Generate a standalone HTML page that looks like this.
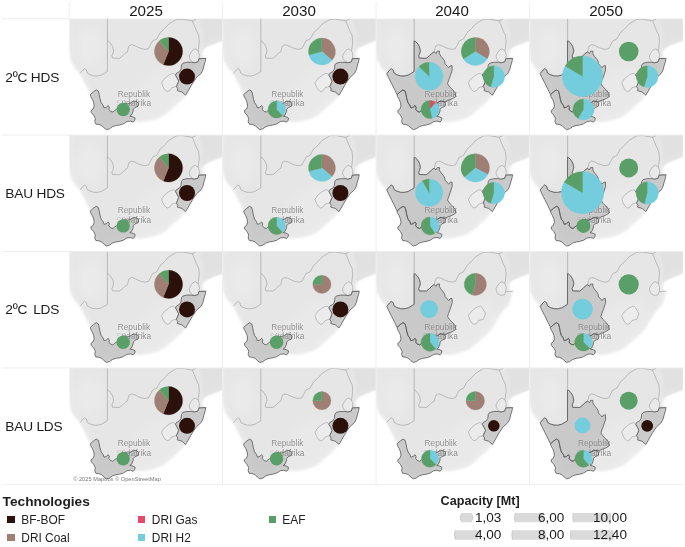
<!DOCTYPE html>
<html><head><meta charset="utf-8"><title>Steel technologies map</title>
<style>
html,body{margin:0;padding:0;background:#fff;}
body{width:685px;height:547px;position:relative;overflow:hidden;will-change:transform;font-family:"Liberation Sans",sans-serif;color:#1f1f1f;}
.t{position:absolute;white-space:nowrap;line-height:1;}
.hd{font-size:14.3px;color:#1a1a1a;transform:scaleX(1.06);transform-origin:50% 50%;}
.rl{font-size:13.7px;letter-spacing:-0.2px;color:#1c1c1c;left:5.3px;}
.lt{font-size:13.7px;font-weight:bold;color:#1e1e1e;}
.li{font-size:11.9px;color:#222;}
.sw{position:absolute;width:7.5px;height:7.2px;}
.num{font-size:12.0px;color:#1a1a1a;transform:scaleX(1.13);transform-origin:0 50%;}
</style></head><body>
<svg width="685" height="547" viewBox="0 0 685 547" style="position:absolute;left:0;top:0"><defs><filter id="bl" x="-10%" y="-10%" width="120%" height="120%"><feGaussianBlur stdDeviation="1.3"/></filter><filter id="bl2" x="-30%" y="-30%" width="160%" height="160%"><feGaussianBlur stdDeviation="4"/></filter><filter id="bl3" x="-20%" y="-20%" width="140%" height="140%"><feGaussianBlur stdDeviation="2.6"/></filter><clipPath id="lc"><path d="M-1.2,-8.0 L165.0,-8.0 L165.0,18.5 L153.3,22.0 L145.3,25.0 L138.3,27.9 L134.4,30.6 L133.0,35.5 L134.5,39.6 L136.3,39.9 L136.0,42.7 L134.6,47.3 L133.7,51.0 L131.9,54.6 L127.3,58.7 L123.2,64.7 L117.7,74.3 L116.4,76.5 L110.8,82.8 L102.7,89.8 L95.6,96.3 L89.2,99.6 L82.2,101.7 L76.3,102.9 L70.5,103.4 L67.0,102.6 L64.1,103.3 L61.2,102.4 L57.7,102.8 L54.2,105.1 L50.1,106.3 L46.6,106.8 L43.1,108.0 L40.2,110.1 L37.3,110.9 L34.9,109.2 L32.6,106.8 L29.7,105.7 L26.7,105.4 L25.6,102.8 L26.2,99.8 L24.4,96.3 L22.1,94.0 L21.8,91.9 L23.8,90.5 L25.0,87.6 L24.6,84.1 L23.2,80.6 L21.5,77.7 L21.1,75.9 L18.8,71.1 L15.3,64.1 L12.6,58.8 L10.8,54.9 L5.6,49.2 L2.2,43.5 L0.6,38.5 L-0.3,31.0 L-0.8,15.0Z"/></clipPath><clipPath id="cc"><rect x="0" y="0" width="153.4" height="116.4"/></clipPath><g id="base"><path d="M-1.2,-8.0 L165.0,-8.0 L165.0,18.5 L153.3,22.0 L145.3,25.0 L138.3,27.9 L134.4,30.6 L133.0,35.5 L134.5,39.6 L136.3,39.9 L136.0,42.7 L134.6,47.3 L133.7,51.0 L131.9,54.6 L127.3,58.7 L123.2,64.7 L117.7,74.3 L116.4,76.5 L110.8,82.8 L102.7,89.8 L95.6,96.3 L89.2,99.6 L82.2,101.7 L76.3,102.9 L70.5,103.4 L67.0,102.6 L64.1,103.3 L61.2,102.4 L57.7,102.8 L54.2,105.1 L50.1,106.3 L46.6,106.8 L43.1,108.0 L40.2,110.1 L37.3,110.9 L34.9,109.2 L32.6,106.8 L29.7,105.7 L26.7,105.4 L25.6,102.8 L26.2,99.8 L24.4,96.3 L22.1,94.0 L21.8,91.9 L23.8,90.5 L25.0,87.6 L24.6,84.1 L23.2,80.6 L21.5,77.7 L21.1,75.9 L18.8,71.1 L15.3,64.1 L12.6,58.8 L10.8,54.9 L5.6,49.2 L2.2,43.5 L0.6,38.5 L-0.3,31.0 L-0.8,15.0Z" fill="#e6e6e6" filter="url(#bl)"/><g clip-path="url(#lc)"><path d="M-1.2,-8.0 L165.0,-8.0 L165.0,18.5 L153.3,22.0 L145.3,25.0 L138.3,27.9 L134.4,30.6 L133.0,35.5 L134.5,39.6 L136.3,39.9 L136.0,42.7 L134.6,47.3 L133.7,51.0 L131.9,54.6 L127.3,58.7 L123.2,64.7 L117.7,74.3 L116.4,76.5 L110.8,82.8 L102.7,89.8 L95.6,96.3 L89.2,99.6 L82.2,101.7 L76.3,102.9 L70.5,103.4 L67.0,102.6 L64.1,103.3 L61.2,102.4 L57.7,102.8 L54.2,105.1 L50.1,106.3 L46.6,106.8 L43.1,108.0 L40.2,110.1 L37.3,110.9 L34.9,109.2 L32.6,106.8 L29.7,105.7 L26.7,105.4 L25.6,102.8 L26.2,99.8 L24.4,96.3 L22.1,94.0 L21.8,91.9 L23.8,90.5 L25.0,87.6 L24.6,84.1 L23.2,80.6 L21.5,77.7 L21.1,75.9 L18.8,71.1 L15.3,64.1 L12.6,58.8 L10.8,54.9 L5.6,49.2 L2.2,43.5 L0.6,38.5 L-0.3,31.0 L-0.8,15.0Z" fill="none" stroke="#fff" stroke-opacity="0.14" stroke-width="7" filter="url(#bl3)"/><ellipse cx="92" cy="76" rx="34" ry="22" fill="#fff" fill-opacity="0.13" filter="url(#bl2)" transform="rotate(-38 92 76)"/><ellipse cx="20" cy="28" rx="13" ry="20" fill="#fff" fill-opacity="0.16" filter="url(#bl2)"/><path d="M131,3 L134,14 L133,28 L131,31 L137,31 L160,22 L160,-5 L128,-5Z" fill="#d6d6d6" fill-opacity="0.30" filter="url(#bl)"/></g><path d="M106.3,56.4 L108.1,59.6 L109.5,62.4 L107.2,67.9 L104.9,68.3 L102.6,69.0 L100.6,71.9 L98.0,72.9 L95.4,70.9 L93.5,67.3 L92.4,64.1 L95.1,60.1 L99.3,56.7 L102.4,55.0 L104.5,54.7Z" fill="#f6f6f6" fill-opacity="0.22"/><path d="M126.0,30.2 L128.9,32.0 L130.2,35.8 L129.8,40.0 L128.7,43.2 L125.1,43.9 L122.3,42.7 L120.5,40.0 L120.0,37.2 L121.9,33.6 L123.8,31.2Z" fill="#f6f6f6" fill-opacity="0.22"/><g fill="none" stroke="#8c8c8c" stroke-width="0.5" stroke-linejoin="round"><path d="M38.2,-2.0 L38.2,52.8"/><path d="M38.2,52.8 L35.1,54.7 L32.2,56.4 L28.1,57.3 L24.6,57.2 L20.8,56.0 L18.1,54.4 L17.2,51.2 L15.2,49.9 L13.4,51.6 L10.8,54.9"/><path d="M38.2,22.2 L39.3,22.6 L41.4,24.6 L43.4,28.0 L44.4,32.2 L43.6,35.2 L42.7,37.0 L43.3,39.4 L50.3,39.6 L53.6,37.0 L55.8,34.6 L58.3,33.1 L59.0,29.9 L59.9,27.2 L62.2,26.0 L64.9,26.6 L68.6,28.5 L72.2,29.9 L75.8,30.6 L79.3,29.9 L81.6,25.6 L83.4,22.1 L87.5,20.3 L91.0,13.9 L95.1,10.4 L99.2,5.7 L103.8,2.8 L107.3,0.7 L113.2,0.5 L116.7,1.1 L123.1,2.2 L126.6,0.5 L128.0,-2.0"/><path d="M123.1,2.2 L124.9,6.3 L127.2,12.1 L129.5,16.8 L130.1,22.7 L129.5,28.5 L128.9,32.0"/><path d="M129.8,40.0 L137.2,39.8"/><path d="M106.3,56.4 L108.1,59.6 L109.5,62.4 L107.2,67.9 L104.9,68.3 L102.6,69.0 L100.6,71.9 L98.0,72.9 L95.4,70.9 L93.5,67.3 L92.4,64.1 L95.1,60.1 L99.3,56.7 L102.4,55.0 L104.5,54.7Z"/><path d="M126.0,30.2 L128.9,32.0 L130.2,35.8 L129.8,40.0 L128.7,43.2 L125.1,43.9 L122.3,42.7 L120.5,40.0 L120.0,37.2 L121.9,33.6 L123.8,31.2Z"/></g></g><g id="lab" font-family="Liberation Sans, sans-serif" font-size="8.3" fill="#8d8d8d" text-anchor="middle" stroke="#f4f4f4" stroke-opacity="0.55" stroke-width="1.1" paint-order="stroke" stroke-linejoin="round"><text x="64.7" y="78.2">Republik</text><text x="64.3" y="87.8"><tspan fill="#c4c4c4">S</tspan>üdafrika</text></g><path id="WC" d="M27.0,71.2 L29.1,72.4 L30.0,75.9 L30.8,80.0 L32.0,84.1 L33.8,86.4 L34.9,89.3 L37.3,88.4 L39.0,86.8 L40.2,88.7 L39.6,90.5 L41.3,92.6 L43.7,93.4 L45.4,91.9 L47.2,90.6 L48.6,90.9 L49.8,88.4 L52.3,85.6 L55.5,84.6 L58.5,85.2 L61.8,84.1 L64.1,82.3 L67.6,82.9 L69.4,84.7 L68.8,87.6 L65.9,88.7 L64.1,90.5 L63.9,92.6 L62.4,96.3 L60.6,97.5 L63.5,98.1 L65.9,99.3 L65.5,101.6 L64.1,103.3 L61.2,102.4 L57.7,102.8 L54.2,105.1 L50.1,106.3 L46.6,106.8 L43.1,108.0 L40.2,110.1 L37.3,110.9 L34.9,109.2 L32.6,106.8 L29.7,105.7 L26.7,105.4 L25.6,102.8 L26.2,99.8 L24.4,96.3 L22.1,94.0 L21.8,91.9 L23.8,90.5 L25.0,87.6 L24.6,84.1 L23.2,80.6 L21.5,77.7 L21.1,75.9 L24.4,73.0Z" fill="#8c8c8c" fill-opacity="0.32" stroke="#5e5e5e" stroke-width="0.85" stroke-linejoin="round"/><path id="NC" d="M38.1,22.2 L39.3,22.6 L41.4,24.6 L43.4,28.0 L44.4,32.2 L43.6,35.2 L42.7,37.0 L43.3,39.4 L50.3,39.6 L53.6,37.0 L55.8,34.6 L58.3,33.1 L60.0,34.9 L61.2,32.5 L63.5,32.5 L63.4,35.0 L65.2,37.9 L67.5,40.6 L68.8,43.0 L69.0,45.0 L71.3,47.5 L72.7,49.1 L74.0,47.3 L76.0,46.9 L76.2,51.2 L74.3,57.1 L72.5,62.0 L71.5,65.0 L73.7,68.2 L77.2,71.7 L79.5,74.6 L79.7,78.0 L76.5,80.0 L73.0,81.4 L70.0,82.6 L67.6,82.9 L64.1,82.3 L61.8,84.1 L58.5,85.2 L55.5,84.6 L52.3,85.6 L49.8,88.4 L48.6,90.9 L47.2,90.6 L45.4,91.9 L43.7,93.4 L41.3,92.6 L39.6,90.5 L40.2,88.7 L39.0,86.8 L37.3,88.4 L34.9,89.3 L33.8,86.4 L32.0,84.1 L30.8,80.0 L30.0,75.9 L29.1,72.4 L27.0,71.2 L24.4,73.0 L21.1,75.9 L18.8,71.1 L15.3,64.1 L12.6,58.8 L10.8,54.9 L13.4,51.6 L15.2,49.9 L17.2,51.2 L18.1,54.4 L20.8,56.0 L24.6,57.2 L28.1,57.3 L32.2,56.4 L35.1,54.7 L38.1,52.8Z" fill="#8c8c8c" fill-opacity="0.32" stroke="#5e5e5e" stroke-width="0.85" stroke-linejoin="round"/><path id="KZN" d="M129.7,40.0 L136.5,39.7 L136.0,42.7 L134.6,47.3 L133.7,51.0 L131.9,54.6 L127.3,58.7 L123.2,64.7 L117.7,74.3 L116.4,76.5 L112.7,73.3 L109.5,72.4 L108.1,72.0 L108.6,70.1 L107.2,67.9 L109.5,62.4 L108.1,59.6 L106.3,56.4 L107.2,54.6 L110.4,52.8 L111.8,50.5 L112.3,46.4 L113.6,44.6 L117.7,43.6 L122.3,43.6 L125.1,44.1 L128.7,43.2Z" fill="#8c8c8c" fill-opacity="0.32" stroke="#5e5e5e" stroke-width="0.85" stroke-linejoin="round"/></defs><g transform="translate(69.2,18.7)" clip-path="url(#cc)"><use href="#base"/><use href="#lab"/><use href="#WC"/><use href="#KZN"/><path d="M99.3,32.8 L99.30,18.70 A14.1,14.1 0 1 1 94.02,45.87Z" fill="#2c110b" stroke="#2c110b" stroke-width="0.3" stroke-linejoin="round"/><path d="M99.3,32.8 L94.02,45.87 A14.1,14.1 0 0 1 90.24,22.00Z" fill="#9f7f74" stroke="#9f7f74" stroke-width="0.3" stroke-linejoin="round"/><path d="M99.3,32.8 L90.24,22.00 A14.1,14.1 0 0 1 99.30,18.70Z" fill="#5a9f67" stroke="#5a9f67" stroke-width="0.3" stroke-linejoin="round"/><circle cx="117.8" cy="57.9" r="8.0" fill="#2c110b"/><circle cx="54.0" cy="90.8" r="6.7" fill="#5a9f67"/></g><g transform="translate(222.6,18.7)" clip-path="url(#cc)"><use href="#base"/><use href="#lab"/><use href="#WC"/><use href="#KZN"/><path d="M99.3,32.8 L99.30,19.40 A13.4,13.4 0 0 1 109.41,41.59Z" fill="#9f7f74" stroke="#9f7f74" stroke-width="0.3" stroke-linejoin="round"/><path d="M99.3,32.8 L109.41,41.59 A13.4,13.4 0 0 1 86.36,36.27Z" fill="#74cddc" stroke="#74cddc" stroke-width="0.3" stroke-linejoin="round"/><path d="M99.3,32.8 L86.36,36.27 A13.4,13.4 0 0 1 99.30,19.40Z" fill="#5a9f67" stroke="#5a9f67" stroke-width="0.3" stroke-linejoin="round"/><circle cx="117.8" cy="57.9" r="8.0" fill="#2c110b"/><path d="M54.0,90.8 L54.00,82.20 A8.6,8.6 0 0 1 59.87,97.09Z" fill="#74cddc" stroke="#74cddc" stroke-width="0.3" stroke-linejoin="round"/><path d="M54.0,90.8 L59.87,97.09 A8.6,8.6 0 1 1 54.00,82.20Z" fill="#5a9f67" stroke="#5a9f67" stroke-width="0.3" stroke-linejoin="round"/></g><g transform="translate(376.0,18.7)" clip-path="url(#cc)"><use href="#base"/><use href="#lab"/><use href="#NC"/><use href="#WC"/><use href="#KZN"/><path d="M99.3,32.8 L99.30,18.80 A14.0,14.0 0 0 1 111.17,40.22Z" fill="#9f7f74" stroke="#9f7f74" stroke-width="0.3" stroke-linejoin="round"/><path d="M99.3,32.8 L111.17,40.22 A14.0,14.0 0 0 1 87.43,40.22Z" fill="#74cddc" stroke="#74cddc" stroke-width="0.3" stroke-linejoin="round"/><path d="M99.3,32.8 L87.43,40.22 A14.0,14.0 0 0 1 99.30,18.80Z" fill="#5a9f67" stroke="#5a9f67" stroke-width="0.3" stroke-linejoin="round"/><path d="M53.1,57.6 L53.10,43.60 A14.0,14.0 0 1 1 43.03,47.87Z" fill="#74cddc" stroke="#74cddc" stroke-width="0.3" stroke-linejoin="round"/><path d="M53.1,57.6 L43.03,47.87 A14.0,14.0 0 0 1 53.10,43.60Z" fill="#5a9f67" stroke="#5a9f67" stroke-width="0.3" stroke-linejoin="round"/><path d="M117.8,57.9 L117.80,47.10 A10.8,10.8 0 1 1 114.64,68.23Z" fill="#74cddc" stroke="#74cddc" stroke-width="0.3" stroke-linejoin="round"/><path d="M117.8,57.9 L114.64,68.23 A10.8,10.8 0 0 1 117.80,47.10Z" fill="#5a9f67" stroke="#5a9f67" stroke-width="0.3" stroke-linejoin="round"/><path d="M54.0,90.8 L54.00,81.70 A9.1,9.1 0 0 1 59.85,83.83Z" fill="#e34c68" stroke="#e34c68" stroke-width="0.3" stroke-linejoin="round"/><path d="M54.0,90.8 L59.85,83.83 A9.1,9.1 0 0 1 56.05,99.67Z" fill="#74cddc" stroke="#74cddc" stroke-width="0.3" stroke-linejoin="round"/><path d="M54.0,90.8 L56.05,99.67 A9.1,9.1 0 1 1 54.00,81.70Z" fill="#5a9f67" stroke="#5a9f67" stroke-width="0.3" stroke-linejoin="round"/></g><g transform="translate(529.4,18.7)" clip-path="url(#cc)"><use href="#base"/><use href="#lab"/><use href="#NC"/><use href="#WC"/><use href="#KZN"/><circle cx="99.3" cy="32.8" r="9.8" fill="#5a9f67"/><path d="M53.1,57.6 L53.10,37.40 A20.2,20.2 0 1 1 35.79,47.20Z" fill="#74cddc" stroke="#74cddc" stroke-width="0.3" stroke-linejoin="round"/><path d="M53.1,57.6 L35.79,47.20 A20.2,20.2 0 0 1 53.10,37.40Z" fill="#5a9f67" stroke="#5a9f67" stroke-width="0.3" stroke-linejoin="round"/><path d="M117.8,57.9 L117.80,47.00 A10.9,10.9 0 1 1 114.61,68.32Z" fill="#74cddc" stroke="#74cddc" stroke-width="0.3" stroke-linejoin="round"/><path d="M117.8,57.9 L114.61,68.32 A10.9,10.9 0 0 1 117.80,47.00Z" fill="#5a9f67" stroke="#5a9f67" stroke-width="0.3" stroke-linejoin="round"/><path d="M54.0,90.8 L54.00,80.30 A10.5,10.5 0 1 1 48.59,99.80Z" fill="#74cddc" stroke="#74cddc" stroke-width="0.3" stroke-linejoin="round"/><path d="M54.0,90.8 L48.59,99.80 A10.5,10.5 0 0 1 54.00,80.30Z" fill="#5a9f67" stroke="#5a9f67" stroke-width="0.3" stroke-linejoin="round"/></g><g transform="translate(69.2,135.1)" clip-path="url(#cc)"><use href="#base"/><use href="#lab"/><use href="#WC"/><use href="#KZN"/><path d="M99.3,32.8 L99.30,18.70 A14.1,14.1 0 1 1 94.02,45.87Z" fill="#2c110b" stroke="#2c110b" stroke-width="0.3" stroke-linejoin="round"/><path d="M99.3,32.8 L94.02,45.87 A14.1,14.1 0 0 1 90.24,22.00Z" fill="#9f7f74" stroke="#9f7f74" stroke-width="0.3" stroke-linejoin="round"/><path d="M99.3,32.8 L90.24,22.00 A14.1,14.1 0 0 1 99.30,18.70Z" fill="#5a9f67" stroke="#5a9f67" stroke-width="0.3" stroke-linejoin="round"/><circle cx="117.8" cy="57.9" r="8.0" fill="#2c110b"/><circle cx="54.0" cy="90.8" r="6.7" fill="#5a9f67"/></g><g transform="translate(222.6,135.1)" clip-path="url(#cc)"><use href="#base"/><use href="#lab"/><use href="#WC"/><use href="#KZN"/><path d="M99.3,32.8 L99.30,19.40 A13.4,13.4 0 0 1 109.41,41.59Z" fill="#9f7f74" stroke="#9f7f74" stroke-width="0.3" stroke-linejoin="round"/><path d="M99.3,32.8 L109.41,41.59 A13.4,13.4 0 0 1 86.36,36.27Z" fill="#74cddc" stroke="#74cddc" stroke-width="0.3" stroke-linejoin="round"/><path d="M99.3,32.8 L86.36,36.27 A13.4,13.4 0 0 1 99.30,19.40Z" fill="#5a9f67" stroke="#5a9f67" stroke-width="0.3" stroke-linejoin="round"/><circle cx="117.8" cy="57.9" r="8.0" fill="#2c110b"/><path d="M54.0,90.8 L54.00,82.20 A8.6,8.6 0 0 1 59.87,97.09Z" fill="#74cddc" stroke="#74cddc" stroke-width="0.3" stroke-linejoin="round"/><path d="M54.0,90.8 L59.87,97.09 A8.6,8.6 0 1 1 54.00,82.20Z" fill="#5a9f67" stroke="#5a9f67" stroke-width="0.3" stroke-linejoin="round"/></g><g transform="translate(376.0,135.1)" clip-path="url(#cc)"><use href="#base"/><use href="#lab"/><use href="#NC"/><use href="#WC"/><use href="#KZN"/><path d="M99.3,32.8 L99.30,18.60 A14.2,14.2 0 0 1 111.84,39.47Z" fill="#9f7f74" stroke="#9f7f74" stroke-width="0.3" stroke-linejoin="round"/><path d="M99.3,32.8 L111.84,39.47 A14.2,14.2 0 0 1 88.42,41.93Z" fill="#74cddc" stroke="#74cddc" stroke-width="0.3" stroke-linejoin="round"/><path d="M99.3,32.8 L88.42,41.93 A14.2,14.2 0 0 1 99.30,18.60Z" fill="#5a9f67" stroke="#5a9f67" stroke-width="0.3" stroke-linejoin="round"/><path d="M53.1,57.6 L53.10,43.90 A13.7,13.7 0 1 1 46.25,45.74Z" fill="#74cddc" stroke="#74cddc" stroke-width="0.3" stroke-linejoin="round"/><path d="M53.1,57.6 L46.25,45.74 A13.7,13.7 0 0 1 53.10,43.90Z" fill="#5a9f67" stroke="#5a9f67" stroke-width="0.3" stroke-linejoin="round"/><path d="M117.8,57.9 L117.80,47.10 A10.8,10.8 0 1 1 114.64,68.23Z" fill="#74cddc" stroke="#74cddc" stroke-width="0.3" stroke-linejoin="round"/><path d="M117.8,57.9 L114.64,68.23 A10.8,10.8 0 0 1 117.80,47.10Z" fill="#5a9f67" stroke="#5a9f67" stroke-width="0.3" stroke-linejoin="round"/><path d="M54.0,90.8 L54.00,81.90 A8.9,8.9 0 0 1 58.98,98.18Z" fill="#74cddc" stroke="#74cddc" stroke-width="0.3" stroke-linejoin="round"/><path d="M54.0,90.8 L58.98,98.18 A8.9,8.9 0 1 1 54.00,81.90Z" fill="#5a9f67" stroke="#5a9f67" stroke-width="0.3" stroke-linejoin="round"/></g><g transform="translate(529.4,135.1)" clip-path="url(#cc)"><use href="#base"/><use href="#lab"/><use href="#NC"/><use href="#WC"/><use href="#KZN"/><circle cx="99.3" cy="32.8" r="9.5" fill="#5a9f67"/><path d="M53.1,57.6 L53.10,36.40 A21.2,21.2 0 1 1 34.74,47.00Z" fill="#74cddc" stroke="#74cddc" stroke-width="0.3" stroke-linejoin="round"/><path d="M53.1,57.6 L34.74,47.00 A21.2,21.2 0 0 1 53.10,36.40Z" fill="#5a9f67" stroke="#5a9f67" stroke-width="0.3" stroke-linejoin="round"/><path d="M117.8,57.9 L117.80,46.70 A11.2,11.2 0 1 1 114.90,68.72Z" fill="#74cddc" stroke="#74cddc" stroke-width="0.3" stroke-linejoin="round"/><path d="M117.8,57.9 L114.90,68.72 A11.2,11.2 0 0 1 117.80,46.70Z" fill="#5a9f67" stroke="#5a9f67" stroke-width="0.3" stroke-linejoin="round"/><circle cx="54.0" cy="90.8" r="7.0" fill="#5a9f67"/></g><g transform="translate(69.2,251.5)" clip-path="url(#cc)"><use href="#base"/><use href="#lab"/><use href="#WC"/><use href="#KZN"/><path d="M99.3,32.8 L99.30,18.70 A14.1,14.1 0 1 1 94.02,45.87Z" fill="#2c110b" stroke="#2c110b" stroke-width="0.3" stroke-linejoin="round"/><path d="M99.3,32.8 L94.02,45.87 A14.1,14.1 0 0 1 90.24,22.00Z" fill="#9f7f74" stroke="#9f7f74" stroke-width="0.3" stroke-linejoin="round"/><path d="M99.3,32.8 L90.24,22.00 A14.1,14.1 0 0 1 99.30,18.70Z" fill="#5a9f67" stroke="#5a9f67" stroke-width="0.3" stroke-linejoin="round"/><circle cx="117.8" cy="57.9" r="8.0" fill="#2c110b"/><circle cx="54.0" cy="90.8" r="6.7" fill="#5a9f67"/></g><g transform="translate(222.6,251.5)" clip-path="url(#cc)"><use href="#base"/><use href="#lab"/><use href="#WC"/><use href="#KZN"/><path d="M99.3,32.8 L99.30,23.70 A9.1,9.1 0 1 1 90.20,32.80Z" fill="#9f7f74" stroke="#9f7f74" stroke-width="0.3" stroke-linejoin="round"/><path d="M99.3,32.8 L90.20,32.80 A9.1,9.1 0 0 1 99.30,23.70Z" fill="#5a9f67" stroke="#5a9f67" stroke-width="0.3" stroke-linejoin="round"/><circle cx="117.8" cy="57.9" r="8.0" fill="#2c110b"/><circle cx="54.0" cy="90.8" r="6.7" fill="#5a9f67"/></g><g transform="translate(376.0,251.5)" clip-path="url(#cc)"><use href="#base"/><use href="#lab"/><use href="#NC"/><use href="#WC"/><path d="M99.3,32.8 L99.30,21.70 A11.1,11.1 0 1 1 96.24,43.47Z" fill="#9f7f74" stroke="#9f7f74" stroke-width="0.3" stroke-linejoin="round"/><path d="M99.3,32.8 L96.24,43.47 A11.1,11.1 0 0 1 99.30,21.70Z" fill="#5a9f67" stroke="#5a9f67" stroke-width="0.3" stroke-linejoin="round"/><circle cx="53.1" cy="57.6" r="8.9" fill="#74cddc"/><path d="M54.0,90.8 L54.00,81.90 A8.9,8.9 0 0 1 59.72,97.62Z" fill="#74cddc" stroke="#74cddc" stroke-width="0.3" stroke-linejoin="round"/><path d="M54.0,90.8 L59.72,97.62 A8.9,8.9 0 1 1 54.00,81.90Z" fill="#5a9f67" stroke="#5a9f67" stroke-width="0.3" stroke-linejoin="round"/></g><g transform="translate(529.4,251.5)" clip-path="url(#cc)"><use href="#base"/><use href="#lab"/><use href="#NC"/><use href="#WC"/><circle cx="99.3" cy="32.8" r="10.1" fill="#5a9f67"/><circle cx="53.1" cy="57.6" r="10.3" fill="#74cddc"/><path d="M54.0,90.8 L54.00,82.00 A8.8,8.8 0 0 1 60.44,96.80Z" fill="#74cddc" stroke="#74cddc" stroke-width="0.3" stroke-linejoin="round"/><path d="M54.0,90.8 L60.44,96.80 A8.8,8.8 0 1 1 54.00,82.00Z" fill="#5a9f67" stroke="#5a9f67" stroke-width="0.3" stroke-linejoin="round"/></g><g transform="translate(69.2,367.9)" clip-path="url(#cc)"><use href="#base"/><use href="#lab"/><use href="#WC"/><use href="#KZN"/><path d="M99.3,32.8 L99.30,18.70 A14.1,14.1 0 1 1 94.02,45.87Z" fill="#2c110b" stroke="#2c110b" stroke-width="0.3" stroke-linejoin="round"/><path d="M99.3,32.8 L94.02,45.87 A14.1,14.1 0 0 1 90.24,22.00Z" fill="#9f7f74" stroke="#9f7f74" stroke-width="0.3" stroke-linejoin="round"/><path d="M99.3,32.8 L90.24,22.00 A14.1,14.1 0 0 1 99.30,18.70Z" fill="#5a9f67" stroke="#5a9f67" stroke-width="0.3" stroke-linejoin="round"/><circle cx="117.8" cy="57.9" r="8.0" fill="#2c110b"/><circle cx="54.0" cy="90.8" r="6.7" fill="#5a9f67"/></g><g transform="translate(222.6,367.9)" clip-path="url(#cc)"><use href="#base"/><use href="#lab"/><use href="#WC"/><use href="#KZN"/><path d="M99.3,32.8 L99.30,23.70 A9.1,9.1 0 1 1 90.20,32.80Z" fill="#9f7f74" stroke="#9f7f74" stroke-width="0.3" stroke-linejoin="round"/><path d="M99.3,32.8 L90.20,32.80 A9.1,9.1 0 0 1 99.30,23.70Z" fill="#5a9f67" stroke="#5a9f67" stroke-width="0.3" stroke-linejoin="round"/><circle cx="117.8" cy="57.9" r="8.0" fill="#2c110b"/><circle cx="54.0" cy="90.8" r="6.7" fill="#5a9f67"/></g><g transform="translate(376.0,367.9)" clip-path="url(#cc)"><use href="#base"/><use href="#lab"/><use href="#WC"/><use href="#KZN"/><path d="M99.3,32.8 L99.30,23.50 A9.3,9.3 0 1 1 90.01,32.48Z" fill="#9f7f74" stroke="#9f7f74" stroke-width="0.3" stroke-linejoin="round"/><path d="M99.3,32.8 L90.01,32.48 A9.3,9.3 0 0 1 99.30,23.50Z" fill="#5a9f67" stroke="#5a9f67" stroke-width="0.3" stroke-linejoin="round"/><circle cx="117.8" cy="57.9" r="5.8" fill="#2c110b"/><path d="M54.0,90.8 L54.00,82.30 A8.5,8.5 0 0 1 59.90,96.91Z" fill="#74cddc" stroke="#74cddc" stroke-width="0.3" stroke-linejoin="round"/><path d="M54.0,90.8 L59.90,96.91 A8.5,8.5 0 1 1 54.00,82.30Z" fill="#5a9f67" stroke="#5a9f67" stroke-width="0.3" stroke-linejoin="round"/></g><g transform="translate(529.4,367.9)" clip-path="url(#cc)"><use href="#base"/><use href="#lab"/><use href="#NC"/><use href="#WC"/><use href="#KZN"/><circle cx="99.3" cy="32.8" r="9.0" fill="#5a9f67"/><circle cx="53.1" cy="57.6" r="7.9" fill="#74cddc"/><circle cx="117.8" cy="57.9" r="5.9" fill="#2c110b"/><path d="M54.0,90.8 L54.00,82.30 A8.5,8.5 0 0 1 59.46,97.31Z" fill="#74cddc" stroke="#74cddc" stroke-width="0.3" stroke-linejoin="round"/><path d="M54.0,90.8 L59.46,97.31 A8.5,8.5 0 1 1 54.00,82.30Z" fill="#5a9f67" stroke="#5a9f67" stroke-width="0.3" stroke-linejoin="round"/></g><g stroke="#eeeeee" stroke-width="1" fill="none"><line x1="69.2" y1="2" x2="69.2" y2="18.7"/><line x1="222.6" y1="2" x2="222.6" y2="484.3"/><line x1="376.0" y1="2" x2="376.0" y2="484.3"/><line x1="529.4" y1="2" x2="529.4" y2="484.3"/><line x1="2" y1="18.7" x2="69.2" y2="18.7"/><line x1="2" y1="135.1" x2="683" y2="135.1"/><line x1="2" y1="251.5" x2="683" y2="251.5"/><line x1="2" y1="367.9" x2="683" y2="367.9"/><line x1="2" y1="484.3" x2="683" y2="484.3"/></g><text x="73.2" y="480.6" font-family="Liberation Sans, sans-serif" font-size="5.7" fill="#777">© 2025 Mapbox © OpenStreetMap</text></svg>
<div class="t hd" style="left:105.5px;width:80px;text-align:center;top:3.6px">2025</div>
<div class="t hd" style="left:258.9px;width:80px;text-align:center;top:3.6px">2030</div>
<div class="t hd" style="left:412.3px;width:80px;text-align:center;top:3.6px">2040</div>
<div class="t hd" style="left:565.7px;width:80px;text-align:center;top:3.6px">2050</div>
<div class="t rl" style="top:70.75px">2ºC HDS</div>
<div class="t rl" style="top:187.00px">BAU HDS</div>
<div class="t rl" style="top:303.25px"><span style="word-spacing:2.4px">2ºC LDS</span></div>
<div class="t rl" style="top:419.50px">BAU LDS</div>
<div class="t lt" style="left:2.6px;top:495.3px">Technologies</div>
<div class="sw" style="left:7.0px;top:515.7px;background:#2c110b"></div><div class="t li" style="left:21.3px;top:514.65px">BF-BOF</div>
<div class="sw" style="left:7.0px;top:533.5px;background:#9f7f74"></div><div class="t li" style="left:21.3px;top:533.35px">DRI Coal</div>
<div class="sw" style="left:137.8px;top:515.7px;background:#e34c68"></div><div class="t li" style="left:151.8px;top:514.65px">DRI Gas</div>
<div class="sw" style="left:137.8px;top:533.5px;background:#74cddc"></div><div class="t li" style="left:151.8px;top:533.35px">DRI H2</div>
<div class="sw" style="left:268.6px;top:515.7px;background:#5a9f67"></div><div class="t li" style="left:282.3px;top:514.65px">EAF</div>
<div class="t lt" style="left:440.6px;top:495.1px;font-size:12.6px">Capacity [Mt]</div>
<svg width="685" height="547" viewBox="0 0 685 547" style="position:absolute;left:0;top:0"><defs><clipPath id="r1"><rect x="440" y="512.9" width="240" height="9.4"/></clipPath><clipPath id="r2"><rect x="440" y="530.2" width="240" height="9.6"/></clipPath></defs><g clip-path="url(#r1)"><circle cx="466.5" cy="517.6" r="6.3" fill="#dadada" stroke="#c2c2c2" stroke-width="0.7"/></g><g clip-path="url(#r2)"><circle cx="466.2" cy="535.0" r="11.8" fill="#dadada" stroke="#c2c2c2" stroke-width="0.7"/></g><g clip-path="url(#r1)"><circle cx="528.6" cy="517.6" r="14.1" fill="#dadada" stroke="#c2c2c2" stroke-width="0.7"/></g><g clip-path="url(#r2)"><circle cx="528.6" cy="535.0" r="16.8" fill="#dadada" stroke="#c2c2c2" stroke-width="0.7"/></g><g clip-path="url(#r1)"><circle cx="591.7" cy="517.6" r="18.9" fill="#dadada" stroke="#c2c2c2" stroke-width="0.7"/></g><g clip-path="url(#r2)"><circle cx="591.8" cy="535.0" r="21.3" fill="#dadada" stroke="#c2c2c2" stroke-width="0.7"/></g></svg><div class="t num" style="left:475.4px;top:512.20px">1,03</div>
<div class="t num" style="left:475.4px;top:528.90px">4,00</div>
<div class="t num" style="left:537.6px;top:512.20px">6,00</div>
<div class="t num" style="left:537.6px;top:528.90px">8,00</div>
<div class="t num" style="left:593.3px;top:512.20px">10,00</div>
<div class="t num" style="left:593.3px;top:528.90px">12,40</div>
</body></html>
